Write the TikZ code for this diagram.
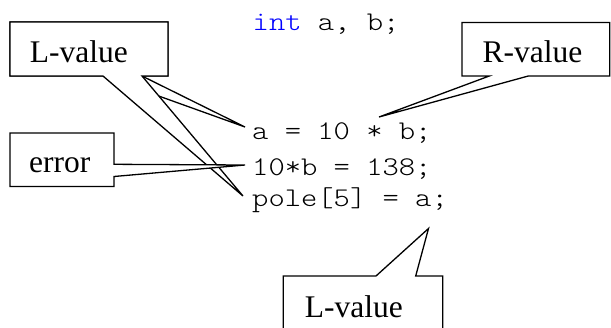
\documentclass[tikz,border=0pt]{standalone}
\usepackage{fontspec}
\setmainfont{Liberation Serif}
\newfontfamily\codefont[FakeStretch=1.15]{lmmonolt10-regular.otf}
\definecolor{kwblue}{RGB}{0,0,255}
\begin{document}
\begin{tikzpicture}[x=1pt,y=-1pt,
  callout/.style={draw=black,fill=white,line width=1.3pt,line join=miter},
  lbl/.style={inner sep=0pt,anchor=base west,font=\fontsize{31.5}{36}\selectfont},
  code/.style={inner sep=0pt,anchor=base west,font=\fontsize{27}{30}\codefont}]
\useasboundingbox (0,0) rectangle (611,327);
\clip (0,0) rectangle (611,327);
% tips
\coordinate (tipA) at (245,127);
\coordinate (tipB) at (243,196);
\coordinate (tipE) at (245,165);
\coordinate (tipR) at (379,117);
\coordinate (tipP) at (428.5,228.5);
% callout A: L-value -> a
\draw[callout] (10,22) -- (168,22) -- (168,76) -- (142,76) -- (tipA) -- (103,76) -- (10,76) -- cycle;
% callout B: L-value -> pole
\draw[callout] (10,22) -- (168,22) -- (168,76) -- (142,76) -- (tipB) -- (103,76) -- (10,76) -- cycle;
% error callout
\draw[callout] (10,133) -- (114,133) -- (114,164.3) -- (tipE) -- (114,176.5) -- (114,186.5) -- (10,186.5) -- cycle;
% R-value callout
\draw[callout] (462,22.5) -- (609.8,22.5) -- (609.8,76) -- (528.3,76) -- (tipR) -- (489.3,76) -- (462,76) -- cycle;
% bottom L-value callout
\draw[callout] (283.3,340) -- (283.3,276) -- (376,276) -- (tipP) -- (415.7,276) -- (442.7,276) -- (442.7,340);
% labels
\node[lbl] (lv1) at (29.6,62) {L-value};
\node[lbl] (err) at (29,172) {error};
\node[lbl] (rv) at (482.5,62) {R-value};
\node[lbl] (lv2) at (304.6,317) {L-value};
% code
\node[code] (c0) at (252.5,30) {\textcolor{kwblue}{int} a, b;};
\node[code] (c1) at (252,139) {a = 10 * b;};
\node[code] (c2) at (252,175) {10*b = 138;};
\node[code] (c3) at (252,206.5) {pole[5] = a;};
\end{tikzpicture}
\end{document}
